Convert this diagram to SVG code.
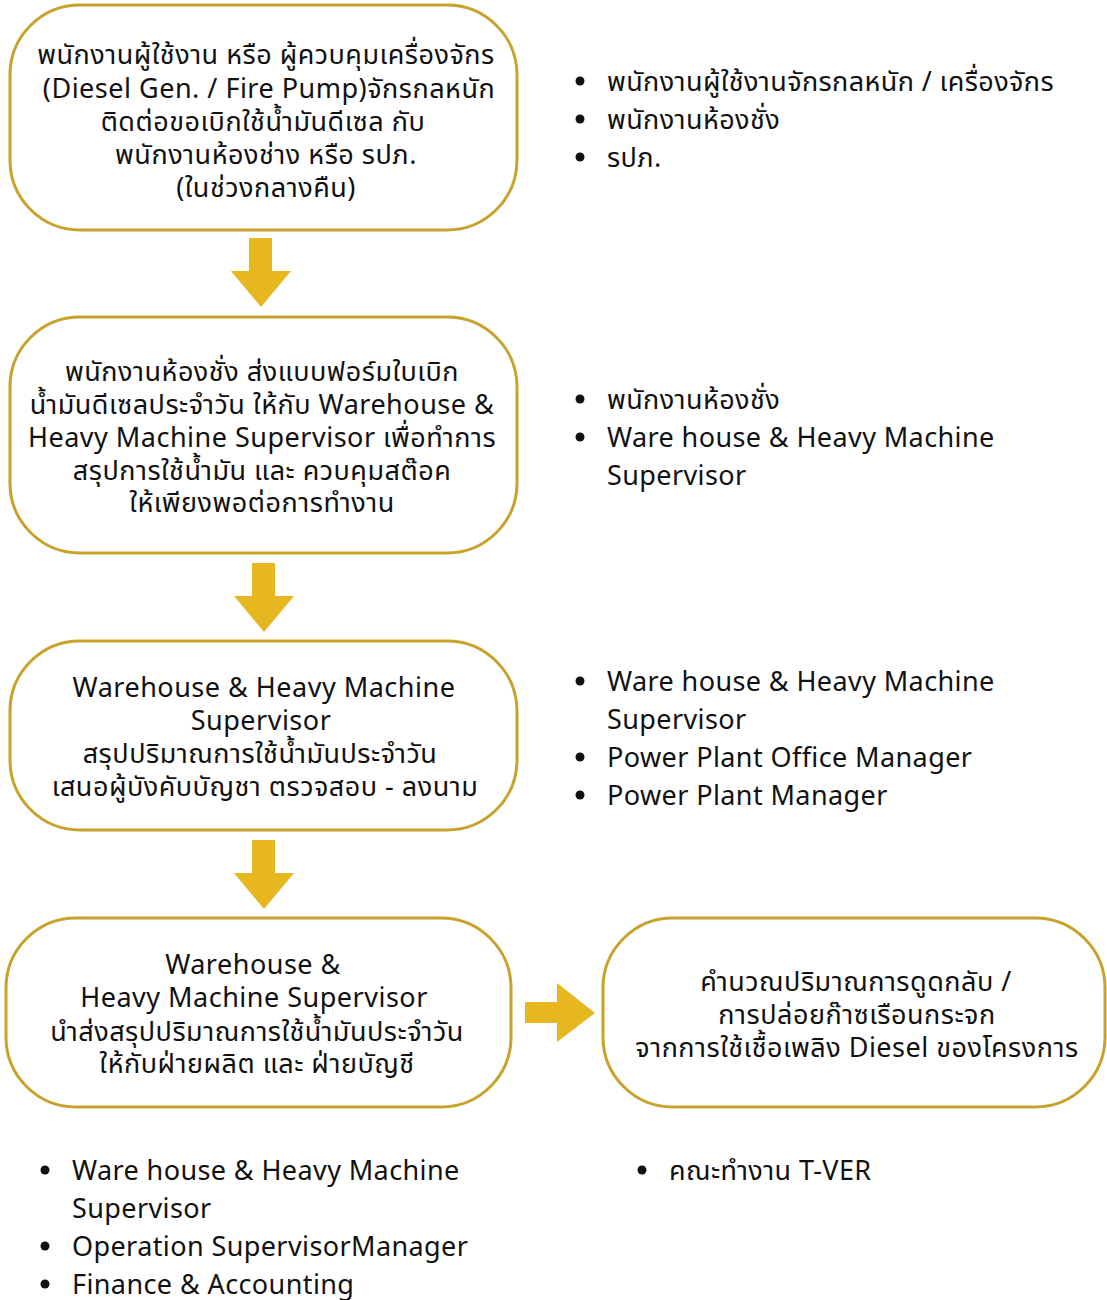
<svg xmlns="http://www.w3.org/2000/svg" width="1107" height="1300" viewBox="0 0 1107 1300">
<style>
.box{fill:#fff;stroke:#C9A22C;stroke-width:3}
.t{font-family:"Noto Sans","Noto Sans Thai","DejaVu Sans",sans-serif;font-size:27px;letter-spacing:0.5px;fill:#111;text-anchor:middle;dominant-baseline:central}
.b{font-family:"Noto Sans","Noto Sans Thai","DejaVu Sans",sans-serif;font-size:27px;letter-spacing:0.4px;fill:#111;dominant-baseline:central}
.arr{fill:#E6B71E}
.dot{fill:#111}
</style>
<rect width="1107" height="1300" fill="#fff"/>
<g id="n1">
<rect class="box" x="10" y="5" width="507" height="225" rx="70"/>
<text class="t" x="266" y="53">พนักงานผู้ใช้งาน หรือ ผู้ควบคุมเครื่องจักร</text>
<text class="t" x="269" y="87">(Diesel Gen. / Fire Pump)จักรกลหนัก</text>
<text class="t" x="263" y="120">ติดต่อขอเบิกใช้น้ำมันดีเซล กับ</text>
<text class="t" x="266" y="153">พนักงานห้องช่าง หรือ รปภ.</text>
<text class="t" x="266" y="186">(ในช่วงกลางคืน)</text>
</g>
<g id="n2">
<rect class="box" x="10" y="317" width="507" height="236" rx="70"/>
<text class="t" x="262" y="370">พนักงานห้องชั่ง ส่งแบบฟอร์มใบเบิก</text>
<text class="t" x="262" y="403">น้ำมันดีเซลประจำวัน ให้กับ Warehouse &amp;</text>
<text class="t" x="262" y="436">Heavy Machine Supervisor เพื่อทำการ</text>
<text class="t" x="262" y="469">สรุปการใช้น้ำมัน และ ควบคุมสต๊อค</text>
<text class="t" x="262" y="501">ให้เพียงพอต่อการทำงาน</text>
</g>
<g id="n3">
<rect class="box" x="10" y="641" width="507" height="189" rx="70"/>
<text class="t" x="264" y="686">Warehouse &amp; Heavy Machine</text>
<text class="t" x="261" y="719">Supervisor</text>
<text class="t" x="260" y="752">สรุปปริมาณการใช้น้ำมันประจำวัน</text>
<text class="t" x="265" y="785">เสนอผู้บังคับบัญชา ตรวจสอบ - ลงนาม</text>
</g>
<g id="n4">
<rect class="box" x="6" y="918" width="505" height="189" rx="70"/>
<text class="t" x="253" y="963">Warehouse &amp;</text>
<text class="t" x="254" y="996">Heavy Machine Supervisor</text>
<text class="t" x="257" y="1030">นำส่งสรุปปริมาณการใช้น้ำมันประจำวัน</text>
<text class="t" x="257" y="1062">ให้กับฝ่ายผลิต และ ฝ่ายบัญชี</text>
</g>
<g id="n5">
<rect class="box" x="603" y="918" width="502" height="189" rx="70"/>
<text class="t" x="856" y="980">คำนวณปริมาณการดูดกลับ /</text>
<text class="t" x="857" y="1013">การปล่อยก๊าซเรือนกระจก</text>
<text class="t" x="857" y="1046">จากการใช้เชื้อเพลิง Diesel ของโครงการ</text>
</g>
<g id="connectors">
<polygon class="arr" points="249,238 272,238 272,271 291,271 261,307 231,271 249,271"/>
<polygon class="arr" points="252,563 275,563 275,596 294,596 264,632 234,596 252,596"/>
<polygon class="arr" points="252,840 275,840 275,873 294,873 264,909 234,873 252,873"/>
<polygon class="arr" points="525,1002 557,1002 557,983 595,1013 557,1042 557,1023 525,1023"/>
</g>
<g id="list1">
<circle class="dot" cx="580" cy="81" r="4.5"/>
<circle class="dot" cx="580" cy="119" r="4.5"/>
<circle class="dot" cx="580" cy="157" r="4.5"/>
<text class="b" x="607" y="80">พนักงานผู้ใช้งานจักรกลหนัก / เครื่องจักร</text>
<text class="b" x="607" y="118">พนักงานห้องชั่ง</text>
<text class="b" x="607" y="156">รปภ.</text>
</g>
<g id="list2">
<circle class="dot" cx="580" cy="399" r="4.5"/>
<circle class="dot" cx="580" cy="437" r="4.5"/>
<text class="b" x="607" y="398">พนักงานห้องชั่ง</text>
<text class="b" x="607" y="436">Ware house &amp; Heavy Machine</text>
<text class="b" x="607" y="474">Supervisor</text>
</g>
<g id="list3">
<circle class="dot" cx="580" cy="681" r="4.5"/>
<circle class="dot" cx="580" cy="757" r="4.5"/>
<circle class="dot" cx="580" cy="795" r="4.5"/>
<text class="b" x="607" y="680">Ware house &amp; Heavy Machine</text>
<text class="b" x="607" y="718">Supervisor</text>
<text class="b" x="607" y="756">Power Plant Office Manager</text>
<text class="b" x="607" y="794">Power Plant Manager</text>
</g>
<g id="list4">
<circle class="dot" cx="45" cy="1170" r="4.5"/>
<circle class="dot" cx="45" cy="1246" r="4.5"/>
<circle class="dot" cx="45" cy="1284" r="4.5"/>
<text class="b" x="72" y="1169">Ware house &amp; Heavy Machine</text>
<text class="b" x="72" y="1207">Supervisor</text>
<text class="b" x="72" y="1245">Operation SupervisorManager</text>
<text class="b" x="72" y="1283">Finance &amp; Accounting</text>
</g>
<g id="list5">
<circle class="dot" cx="642" cy="1170" r="4.5"/>
<text class="b" x="669" y="1169">คณะทำงาน T-VER</text>
</g>
</svg>
